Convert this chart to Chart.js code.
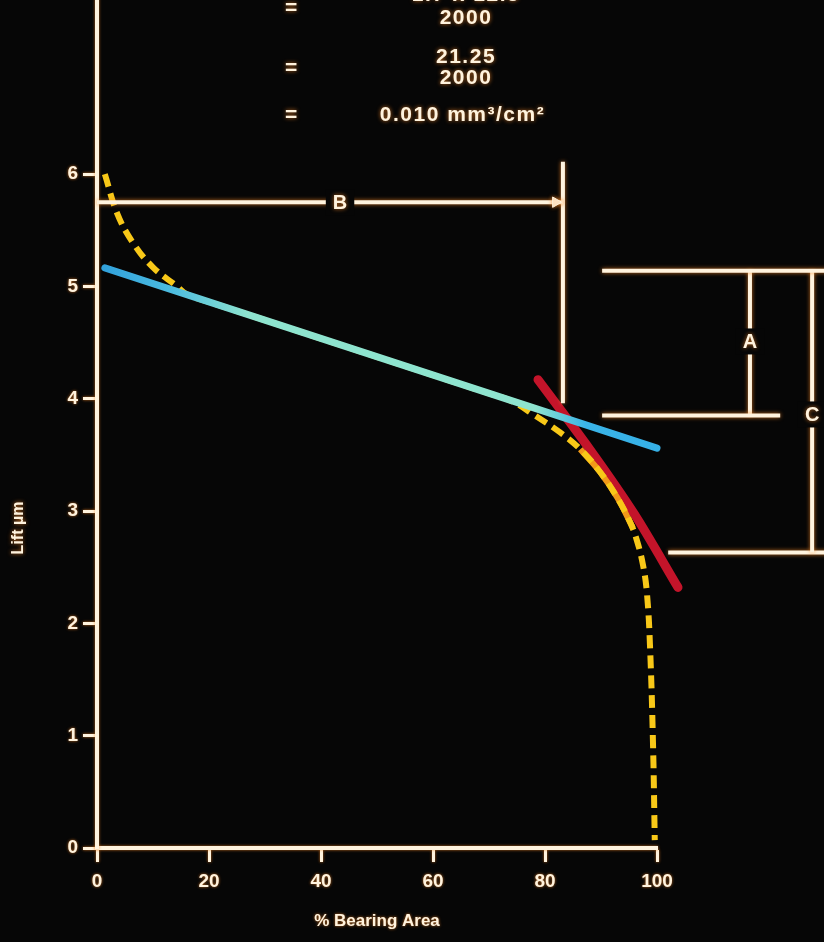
<!DOCTYPE html>
<html>
<head>
<meta charset="utf-8">
<script src="https://cdn.jsdelivr.net/npm/chart.js@4.4.1/dist/chart.umd.min.js"></script>
<style>
  html, body { margin: 0; padding: 0; background: #060606; }
  #wrap { width: 824px; height: 942px; }
</style>
</head>
<body>
<div id="wrap"><canvas id="c" width="824" height="942"></canvas></div>
<script>
// Axis ticks
const xTicks = [0, 20, 40, 60, 80, 100];
const yTicks = [0, 1, 2, 3, 4, 5, 6];

// Bearing-area (Abbott) curve: lift in µm against % bearing area
const curveX = [1.4, 3.6, 6.4, 10, 14.3, 16, 20, 30, 40, 50, 60, 70, 74, 77.9, 82.7, 86.3, 89.8, 92.9, 95.2, 96.4, 97.5, 98.2, 98.75, 99.3, 99.6];
const curveY = [6.0, 5.65, 5.39, 5.17, 5.0, 4.93, 4.862, 4.699, 4.536, 4.373, 4.21, 4.047, 3.98, 3.86, 3.70, 3.55, 3.35, 3.12, 2.90, 2.74, 2.52, 2.27, 1.80, 0.90, 0.07];

// Stretch of the curve where it runs along the tangent
const overlapX = [86.3, 89.8, 92.9, 95.2, 95.7];
const overlapY = [3.55, 3.35, 3.12, 2.90, 2.85];

// Best-fit line through the plateau
const plateauX = [1.4, 100];
const plateauY = [5.165, 3.56];

// Tangent at the knee of the curve
const tangentX = [78.75, 88, 96, 103.75];
const tangentY = [4.17, 3.55, 2.97, 2.32];

// Dimension lines: [x1, y1, x2, y2]
const guideSegments = [
  [0, 5.75, 83.2, 5.75],
  [83.2, 6.11, 83.2, 3.96],
  [90.2, 5.14, 132, 5.14],
  [90.2, 3.85, 122, 3.85],
  [116.6, 5.14, 116.6, 3.85],
  [127.7, 5.14, 127.7, 2.63],
  [102, 2.63, 132, 2.63]
];
// Arrow heads: [x, y, rotation in degrees]
const arrowHeads = [
  [81.9, 5.75, 90],
  [116.6, 5.06, 0],
  [116.6, 3.93, 180],
  [127.7, 5.06, 0],
  [127.7, 2.71, 180]
];
// Dimension letters: [text, x, y]
const dimLabels = [
  ['B', 43.4, 5.75],
  ['A', 116.6, 4.51],
  ['C', 127.7, 3.86]
];

// Worked calculation printed above the plot
const calcLines = [
  ['=', 34.8, 7.48, 'center'],
  ['1.7 x 12.5', 65.9, 7.59, 'center'],
  ['2000', 65.9, 7.39, 'center'],
  ['=', 34.8, 6.94, 'center'],
  ['21.25', 65.9, 7.04, 'center'],
  ['2000', 65.9, 6.85, 'center'],
  ['=', 34.8, 6.52, 'center'],
  ['0.010 mm³/cm²', 50.5, 6.52, 'left']
];

const CREAM = '#fff3de';
const GLOW = 'rgba(255,140,40,0.75)';
const FONT = '"Liberation Sans", Arial, sans-serif';

const pts = (xs, ys) => xs.map((x, i) => ({ x: x, y: ys[i] }));

const datasets = [];
datasets.push({
  label: 'tangent', data: pts(tangentX, tangentY),
  borderColor: '#c3142a', borderWidth: 9, borderCapStyle: 'round',
  tension: 0.3, order: 6
});
datasets.push({
  label: 'overlap', data: pts(overlapX, overlapY),
  borderColor: '#f29a18', borderWidth: 6, tension: 0.4, order: 5
});
datasets.push({
  label: 'curve', data: pts(curveX, curveY),
  borderColor: '#f8c818', borderWidth: 6, borderDash: [13, 7],
  tension: 0.4, order: 4
});
datasets.push({
  label: 'plateau', data: pts(plateauX, plateauY),
  borderWidth: 7, borderCapStyle: 'round', order: 3,
  borderColor: function (ctx) {
    const chart = ctx.chart;
    if (!chart.chartArea) return '#3aaee0';
    const xs = chart.scales.x;
    const g = chart.ctx.createLinearGradient(xs.getPixelForValue(plateauX[0]), 0, xs.getPixelForValue(plateauX[1]), 0);
    g.addColorStop(0, '#32a2dc');
    g.addColorStop(0.12, '#4cbce0');
    g.addColorStop(0.26, '#8ee4cf');
    g.addColorStop(0.78, '#8ee4cf');
    g.addColorStop(0.87, '#3ab4e8');
    g.addColorStop(1, '#36b0e6');
    return g;
  }
});
guideSegments.forEach((s, i) => {
  datasets.push({
    label: 'guide' + i, data: [{ x: s[0], y: s[1] }, { x: s[2], y: s[3] }],
    borderColor: CREAM, borderWidth: 4, order: 1, glow: true
  });
});
datasets.push({
  label: 'arrows', data: arrowHeads.map(a => ({ x: a[0], y: a[1] })),
  showLine: false, pointStyle: 'triangle', pointRadius: 6,
  pointRotation: arrowHeads.map(a => a[2]),
  pointBackgroundColor: CREAM, pointBorderColor: CREAM, pointBorderWidth: 1,
  order: 0, glow: true
});
datasets.forEach(d => {
  if (d.showLine === undefined) d.showLine = true;
  if (d.pointRadius === undefined) d.pointRadius = 0;
  d.clip = false;
  d.fill = false;
});

const glowPlugin = {
  id: 'glow',
  beforeDatasetDraw(chart, args) {
    const ctx = chart.ctx;
    ctx.save();
    if (args.meta._dataset.glow) {
      ctx.shadowColor = GLOW;
      ctx.shadowBlur = 4;
    }
  },
  afterDatasetDraw(chart) {
    chart.ctx.restore();
  }
};

// dark backdrop, and a warm halo on the axes
const bgPlugin = {
  id: 'bg',
  beforeDraw(chart) {
    const ctx = chart.ctx;
    ctx.fillStyle = '#060606';
    ctx.fillRect(0, 0, chart.width, chart.height);
    ctx.save();
    ctx.shadowColor = GLOW;
    ctx.shadowBlur = 3;
  },
  beforeDatasetsDraw(chart) {
    chart.ctx.restore();
  }
};

const textPlugin = {
  id: 'texts',
  afterDatasetsDraw(chart) {
    const ctx = chart.ctx;
    const xs = chart.scales.x, ys = chart.scales.y;
    ctx.save();
    ctx.textBaseline = 'middle';
    // letters sit in a gap of their dimension line
    ctx.font = 'bold 20px ' + FONT;
    dimLabels.forEach(l => {
      const px = xs.getPixelForValue(l[1]), py = ys.getPixelForValue(l[2]);
      const w = ctx.measureText(l[0]).width;
      ctx.fillStyle = '#060606';
      ctx.fillRect(px - w / 2 - 7, py - 13, w + 14, 26);
      ctx.shadowColor = GLOW; ctx.shadowBlur = 4;
      ctx.fillStyle = CREAM;
      ctx.textAlign = 'center';
      ctx.fillText(l[0], px, py + 1);
      ctx.shadowBlur = 0;
    });
    // calculation lines
    ctx.font = 'bold 21px ' + FONT;
    ctx.letterSpacing = '1.5px';
    ctx.shadowColor = GLOW; ctx.shadowBlur = 4;
    ctx.fillStyle = CREAM;
    calcLines.forEach(l => {
      ctx.textAlign = l[3];
      ctx.fillText(l[0], xs.getPixelForValue(l[1]), ys.getPixelForValue(l[2]));
    });
    ctx.letterSpacing = '0px';
    // vertical axis title
    ctx.font = 'bold 16px ' + FONT;
    ctx.textAlign = 'center';
    ctx.translate(19, 528);
    ctx.rotate(-Math.PI / 2);
    ctx.fillText('Lift µm', 0, 0);
    ctx.restore();
  }
};

const tickFont = { family: FONT, weight: 'bold', size: 19 };

new Chart(document.getElementById('c'), {
  type: 'scatter',
  data: { datasets: datasets },
  options: {
    responsive: false,
    animation: false,
    devicePixelRatio: 1,
    layout: { autoPadding: false, padding: { left: 0, right: 167, top: 0, bottom: 10 } },
    plugins: { legend: { display: false }, tooltip: { enabled: false } },
    scales: {
      x: {
        type: 'linear', min: 0, max: 100,
        afterBuildTicks: s => { s.ticks = xTicks.map(v => ({ value: v })); },
        afterFit: s => { s.height = 84; s.paddingLeft = 0; s.paddingRight = 0; },
        grid: { display: true, drawOnChartArea: false, drawTicks: true, tickLength: 14, tickWidth: 3, tickColor: CREAM },
        border: { display: true, color: CREAM, width: 4 },
        ticks: { color: CREAM, font: tickFont, padding: 8, maxRotation: 0 },
        title: { display: true, text: '% Bearing Area', color: CREAM, font: { family: FONT, weight: 'bold', size: 17 }, padding: 0 }
      },
      y: {
        type: 'linear', min: 0, max: 7.55,
        afterBuildTicks: s => { s.ticks = yTicks.map(v => ({ value: v })); },
        afterFit: s => { s.width = 97; s.paddingTop = 0; s.paddingBottom = 0; },
        grid: { display: true, drawOnChartArea: false, drawTicks: true, tickLength: 14, tickWidth: 3, tickColor: CREAM },
        border: { display: true, color: CREAM, width: 4 },
        ticks: { color: CREAM, font: tickFont, padding: 5 },
        title: { display: false }
      }
    }
  },
  plugins: [bgPlugin, glowPlugin, textPlugin]
});
</script>
</body>
</html>
